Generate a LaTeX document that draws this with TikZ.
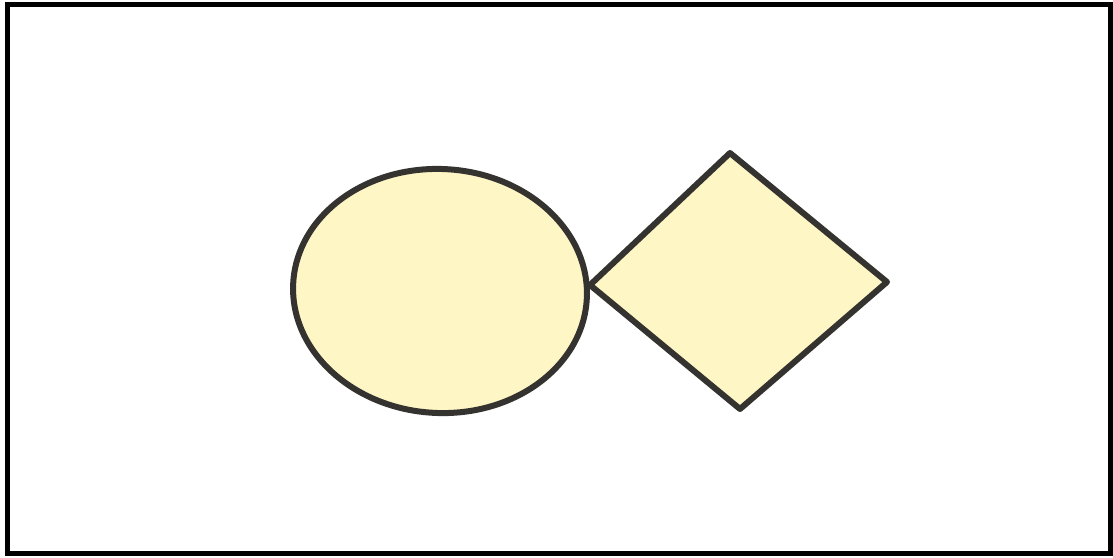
\documentclass[tikz,border=0pt]{standalone}
\usetikzlibrary{shapes.geometric}
\definecolor{fillyel}{HTML}{FFF6C6}
\definecolor{inkgray}{HTML}{353330}
\tikzset{
  shapeline/.style={draw=inkgray, line width=6, fill=fillyel, line join=round},
  framebox/.style={draw=black, line width=5}
}
\begin{document}
\begin{tikzpicture}[x=1pt,y=-1pt]
\useasboundingbox (0,0) rectangle (1113,557);
\fill[white] (0,0) rectangle (1113,557);
\draw[framebox] (7,4.5) rectangle (1110.5,553.5);
\node[shapeline, ellipse, minimum width=294, minimum height=244, inner sep=0, rotate=-3] (circ) at (440,291) {};
\coordinate (dl) at (590,285);
\coordinate (dt) at (730,153);
\coordinate (dr) at (887,282);
\coordinate (db) at (740,409);
\draw[shapeline] (dl) -- (dt) -- (dr) -- (db) -- cycle;
\end{tikzpicture}
\end{document}
